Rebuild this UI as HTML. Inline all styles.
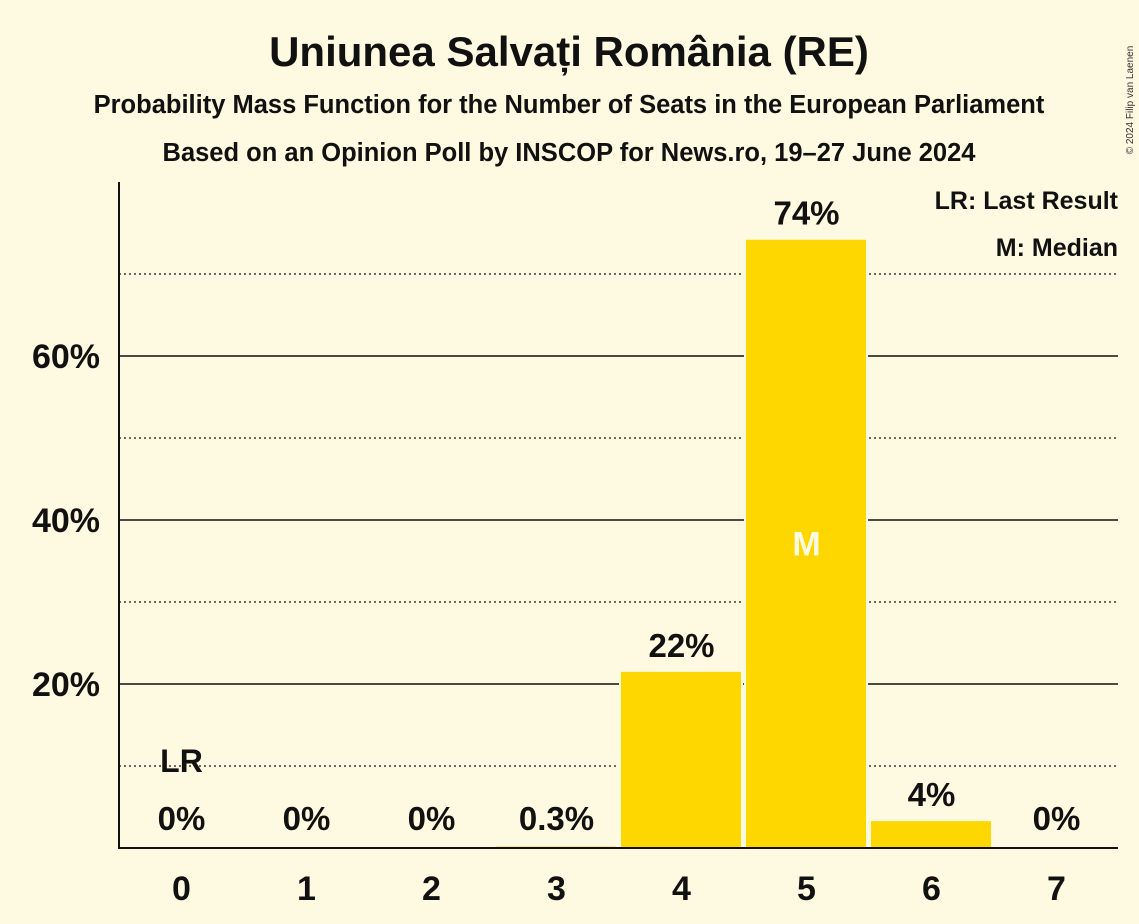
<!DOCTYPE html>
<html><head><meta charset="utf-8"><style>
body{margin:0;background:#fef9e1;}
svg{display:block;font-family:"Liberation Sans",sans-serif;}
</style></head><body>
<svg id="chart" width="1139" height="924" viewBox="0 0 1139 924">
<rect width="1139" height="924" fill="#fef9e1"/>
<text x="569" y="66" text-anchor="middle" font-size="42" font-weight="bold" fill="#111">Uniunea Salvați România (RE)</text>
<text x="569" y="113" text-anchor="middle" font-size="25.5" font-weight="bold" fill="#111">Probability Mass Function for the Number of Seats in the European Parliament</text>
<text x="569" y="161" text-anchor="middle" font-size="25.5" font-weight="bold" fill="#111">Based on an Opinion Poll by INSCOP for News.ro, 19–27 June 2024</text>
<text x="1133" y="100" font-size="10" fill="#333" transform="rotate(-90 1133 100)" text-anchor="middle">© 2024 Filip van Laenen</text>
<g id="grid"></g><g id="bars"></g><g id="labels"></g>
<line x1="119" y1="182" x2="119" y2="849" stroke="#111" stroke-width="2"/>
<line x1="118" y1="848" x2="1118" y2="848" stroke="#111" stroke-width="2"/>
<text x="1118" y="209" text-anchor="end" font-size="25" font-weight="bold" fill="#111">LR: Last Result</text>
<text x="1118" y="256" text-anchor="end" font-size="25" font-weight="bold" fill="#111">M: Median</text>
</svg>
<script>
const seats=[0,1,2,3,4,5,6,7];
const probs=[0,0,0,0.3,21.6,74.3,3.4,0];
const probLabels=["0%","0%","0%","0.3%","22%","74%","4%","0%"];
const yTicks=[20,40,60];
const yMinor=[10,30,50,70];
const medianSeat=5, lastResultSeat=0;
const NS="http://www.w3.org/2000/svg";
const x0=119,bw=125,yBase=848,pxPer=8.2;
const xs=i=>x0+bw*i;
const ys=v=>yBase-v*pxPer;
function mk(tag,attrs,parent,txt){const e=document.createElementNS(NS,tag);for(const k in attrs)e.setAttribute(k,attrs[k]);if(txt!==undefined)e.textContent=txt;document.getElementById(parent).appendChild(e);return e;}
yMinor.forEach(v=>{const l=mk('line',{x1:x0,x2:1118,y1:ys(v),y2:ys(v),stroke:'#111','stroke-width':1.3,'stroke-dasharray':'2,3'},'grid');

});
yTicks.forEach(v=>{const l=mk('line',{x1:x0,x2:1118,y1:ys(v),y2:ys(v),stroke:'#111','stroke-width':1.6},'grid');


const t=mk('text',{x:100,y:ys(v)+12,'text-anchor':'end','font-size':34,'font-weight':'bold',fill:'#111'},'labels',v+'%');

});
seats.forEach((s,i)=>{
const cx=xs(i)+bw/2;
if(probs[i]>0){const r=mk('rect',{x:xs(i)+1,y:ys(probs[i]),width:bw-3,height:probs[i]*pxPer,fill:'#ffd700',stroke:'#fef9e1','stroke-width':2},'bars');


}
const top=probs[i]>0?ys(probs[i]):yBase;
const vl=mk('text',{x:cx,y:Math.min(top-14,yBase-18),'text-anchor':'middle','font-size':33,'font-weight':'bold',fill:'#111'},'labels',probLabels[i]);


const xl=mk('text',{x:cx,y:900,'text-anchor':'middle','font-size':34,'font-weight':'bold',fill:'#111'},'labels',String(s));


if(s===medianSeat){const m=mk('text',{x:cx,y:ys(probs[i]/2)+12,'text-anchor':'middle','font-size':34,'font-weight':'bold',fill:'#fef9e1'},'labels','M');

}
if(s===lastResultSeat){const lr=mk('text',{x:cx,y:772,'text-anchor':'middle','font-size':32,'font-weight':'bold',fill:'#111'},'labels','LR');

}
});
</script>
</body></html>
